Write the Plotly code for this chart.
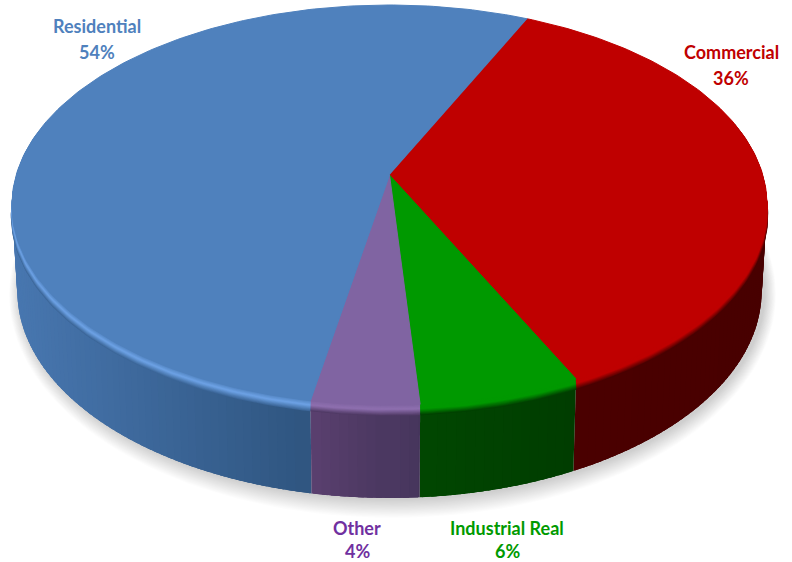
import numpy as np
import plotly.graph_objects as go

# ---- data (clockwise from the start angle) ----
categories = ["Commercial", "Industrial Real", "Other", "Residential"]
values = [36, 6, 4, 54]

# ---- styles ----
face_colors = ["#bf0000", "#009900", "#8064a2", "#4f81bd"]
label_colors = ["#c00000", "#009a00", "#7030a0", "#4f81bd"]
rim_colors = ["#bf0000", "#009900", "#8f70b0", "#6ea3e6"]
side_left = ["#4a0000", "#014601", "#5b4070", "#4877b0"]
side_right = ["#480000", "#003c00", "#44355a", "#2f5580"]
label_pos = [(731, 52, 78), (507, 528, 551), (357, 528, 551), (97, 26, 52)]
START = 24.8
CX, Y0, K = 389.5, 175.0, 0.15
TOP_A, TOP_B = 373.3, 195.5
BOT_A, BOT_B, DEPTH = 368.0, 202.3, 85.0


def project(theta, a, b, dz=0.0, r=1.0, dx=0.0):
    """Perspective-project disc points; theta in degrees clockwise from the back."""
    t = np.radians(theta)
    u, v = r * np.sin(t), r * np.cos(t) * -1
    w = 1 - K * v
    return CX + dx + a * u / w, Y0 + dz + b * v / w


def mix(c1, c2, t):
    a = [int(c1[i:i + 2], 16) for i in (1, 3, 5)]
    b = [int(c2[i:i + 2], 16) for i in (1, 3, 5)]
    return "#%02x%02x%02x" % tuple(round(p + (q - p) * t) for p, q in zip(a, b))


fig = go.Figure()


def poly(x, y, fill, line=None):
    fig.add_trace(go.Scatter(
        x=list(x), y=list(y), mode="lines", fill="toself", fillcolor=fill,
        line=dict(color=line or "rgba(0,0,0,0)", width=1 if line else 0),
        hoverinfo="skip", showlegend=False))


# slice limits from the values
total = sum(values)
edges = START + 360 * np.cumsum([0] + values) / total

# soft shadow below the base
ring = np.linspace(0, 360, 181)
for i in range(16, 0, -1):
    sx, sy = project(ring, BOT_A + i * 0.7, BOT_B + i * 1.0, DEPTH + 1, dx=3)
    poly(sx, sy, "rgba(0,0,0,0.011)")

# side wall, painted back to front with overlapping strips
strips = []
for s in range(len(values)):
    a0, a1 = edges[s], edges[s + 1]
    n = max(2, int((a1 - a0) / 1.2))
    th = np.linspace(a0, a1, n + 1)
    for j in range(n):
        strips.append((s, th[j], th[j + 1], a0, a1))
strips = [q for q in strips if np.cos(np.radians((q[1] + q[2]) / 2)) < 0.25]
strips.sort(key=lambda q: -np.cos(np.radians((q[1] + q[2]) / 2)))
for s, t0, t1, a0, a1 in strips:
    t0x, t1x = max(a0, t0 - 1.0), min(a1, t1 + 1.0)
    tx0, ty0 = project(np.array([t0x, t1x]), TOP_A, TOP_B)
    bx0, by0 = project(np.array([t1x, t0x]), BOT_A, BOT_B, DEPTH)
    mx = (project(np.array([(t0 + t1) / 2]), TOP_A, TOP_B)[0][0] - 12) / 755
    if s == 3:
        f = np.clip(mx / 0.40, 0, 1)
    elif s == 2:
        f = np.clip((mx - 0.40) / 0.14, 0, 1)
    elif s == 1:
        f = np.clip((mx - 0.54) / 0.22, 0, 1)
    else:
        f = np.clip((mx - 0.75) / 0.25, 0, 1)
    col = mix(side_left[s], side_right[s], float(f))
    poly(list(tx0) + list(bx0), list(ty0) + list(by0), col)

# bevel and face, wedges stacked from lowest to highest
BEVEL = 10.0
steps = 14
for k in range(steps, -1, -1):
    t = k / steps
    for s in range(len(values)):
        th = np.linspace(edges[s], edges[s + 1], max(3, int(values[s] * 3.6) + 1))
        ex, ey = project(th, TOP_A, TOP_B, BEVEL * t, 1 + 0.003 * t)
        ax, ay = project(np.array([0.0]), 0, 0, BEVEL * t)
        side_mid = mix(side_left[s], side_right[s], 0.5)
        if t < 0.45:
            col = mix(face_colors[s], rim_colors[s], t / 0.45)
        else:
            col = mix(rim_colors[s], side_mid, (t - 0.45) / 0.55)
        poly([ax[0]] + list(ex), [ay[0]] + list(ey), col, col if k == 0 else None)

# labels
annos = []
for name, val, colr, (lx, y1, y2) in zip(categories, values, label_colors, label_pos):
    pct = f"{round(100 * val / total)}%"
    for txt, yy in ((name, y1), (pct, y2)):
        annos.append(dict(x=lx, y=yy, text=f"<b>{txt}</b>", showarrow=False,
                          xanchor="center", yanchor="middle",
                          font=dict(family="Lato, Open Sans, sans-serif", size=18, color=colr)))

fig.update_layout(
    width=792, height=562, autosize=False, showlegend=False,
    margin=dict(l=0, r=0, t=0, b=0),
    paper_bgcolor="white", plot_bgcolor="white",
    xaxis=dict(range=[0, 792], visible=False, fixedrange=True),
    yaxis=dict(range=[562, 0], visible=False, fixedrange=True),
    annotations=annos,
)
fig.write_html("out.html", config=dict(displayModeBar=False),
               post_script="document.body.style.margin='0';document.body.style.overflow='hidden';")
